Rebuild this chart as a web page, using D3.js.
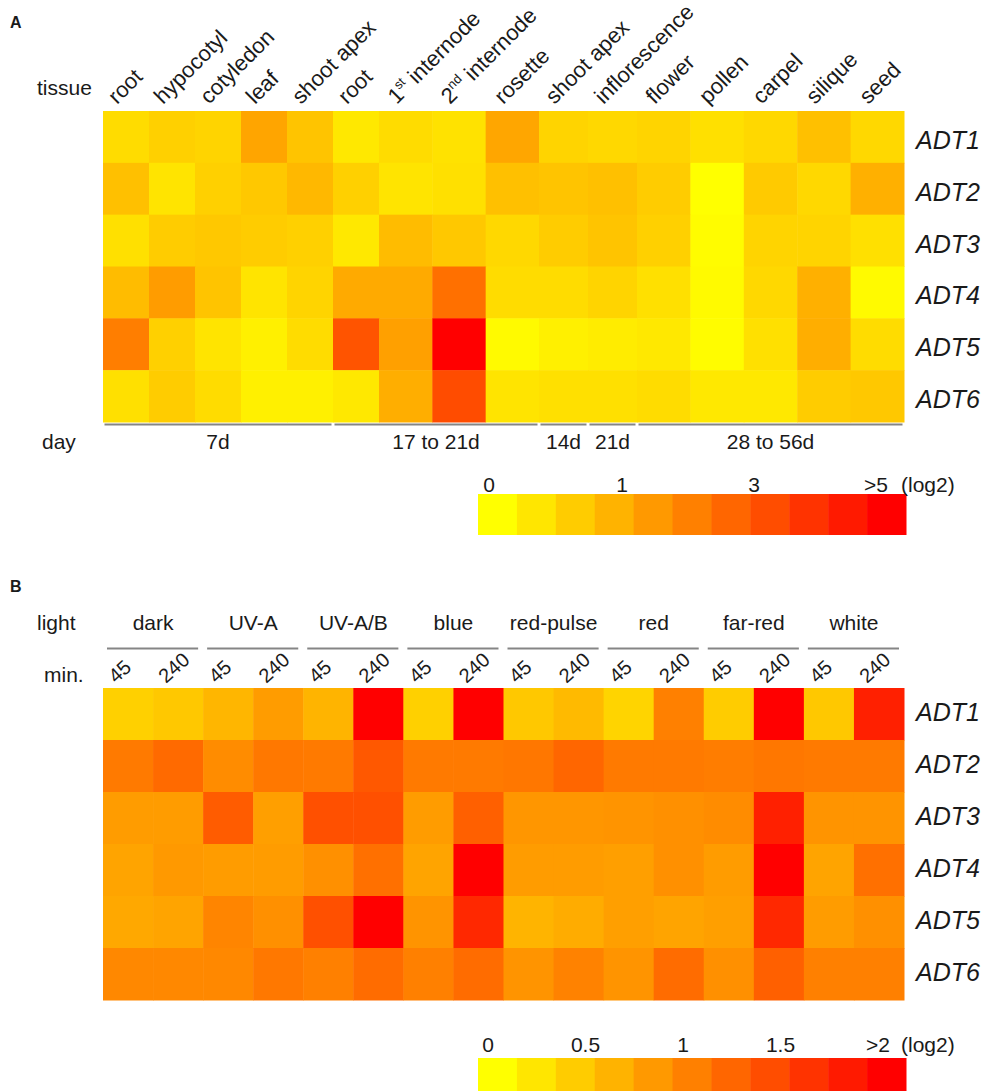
<!DOCTYPE html>
<html>
<head>
<meta charset="utf-8">
<script src="https://d3js.org/d3.v7.min.js"></script>
<style>
  body { margin: 0; background: #fff; }
  svg text { font-family: Arial, "Liberation Sans", sans-serif; fill: #1a1a1a; }
  .gene { font-style: italic; font-size: 25px; }
  .hdr { font-size: 21px; }
</style>
</head>
<body>
<div id="chart"></div>
<script>

// ---- panel A data: tissues ----
var tissues = ["root", "hypocotyl", "cotyledon", "leaf", "shoot apex", "root", "1st internode", "2nd internode",
               "rosette", "shoot apex", "inflorescence", "flower", "pollen", "carpel", "silique", "seed"];
var genes = ["ADT1", "ADT2", "ADT3", "ADT4", "ADT5", "ADT6"];
var dayLabels = ["7d", "17 to 21d", "14d", "21d", "28 to 56d"];
var dayFirst  = [0, 5, 9, 10, 11];
var dayLast   = [4, 8, 9, 10, 15];

// log2 expression, one row per gene
var tissueADT1 = [0.39, 0.52, 0.48, 1.00, 0.66, 0.26, 0.39, 0.32, 0.99, 0.48, 0.43, 0.48, 0.34, 0.43, 0.70, 0.43];
var tissueADT2 = [0.70, 0.30, 0.52, 0.61, 0.79, 0.52, 0.30, 0.34, 0.70, 0.66, 0.70, 0.57, 0.00, 0.59, 0.43, 0.88];
var tissueADT3 = [0.34, 0.57, 0.61, 0.57, 0.52, 0.26, 0.74, 0.61, 0.43, 0.57, 0.66, 0.52, 0.03, 0.48, 0.48, 0.34];
var tissueADT4 = [0.74, 1.21, 0.66, 0.30, 0.48, 0.94, 0.94, 2.25, 0.39, 0.39, 0.48, 0.34, 0.06, 0.43, 0.88, 0.06];
var tissueADT5 = [1.92, 0.52, 0.30, 0.17, 0.39, 2.90, 1.12, 5.20, 0.06, 0.17, 0.21, 0.26, 0.03, 0.34, 0.90, 0.39];
var tissueADT6 = [0.34, 0.57, 0.39, 0.17, 0.17, 0.26, 0.90, 3.10, 0.30, 0.34, 0.34, 0.39, 0.26, 0.26, 0.57, 0.61];
var tissueRows = [tissueADT1, tissueADT2, tissueADT3, tissueADT4, tissueADT5, tissueADT6];
var legendTicksA = [0, 1, 3, 5];
var legendTextA  = ["0", "1", "3", ">5"];

// ---- panel B data: light treatments ----
var lights  = ["dark", "UV-A", "UV-A/B", "blue", "red-pulse", "red", "far-red", "white"];
var minutes = ["45", "240"];
var lightADT1 = [0.37, 0.43, 0.57, 0.78, 0.59, 2.30, 0.37, 2.30, 0.43, 0.54, 0.34, 1.00, 0.40, 2.20, 0.43, 1.75];
var lightADT2 = [1.04, 1.17, 0.90, 1.06, 1.04, 1.31, 1.04, 1.04, 1.07, 1.20, 1.04, 1.04, 1.02, 1.07, 1.04, 1.04];
var lightADT3 = [0.78, 0.78, 1.28, 0.75, 1.37, 1.37, 0.78, 1.25, 0.82, 0.82, 0.84, 0.87, 0.90, 1.75, 0.84, 0.84];
var lightADT4 = [0.71, 0.80, 0.78, 0.78, 0.87, 1.12, 0.71, 2.20, 0.78, 0.78, 0.75, 0.87, 0.78, 2.10, 0.71, 1.12];
var lightADT5 = [0.68, 0.71, 0.96, 0.87, 1.37, 2.30, 0.84, 1.69, 0.59, 0.65, 0.75, 0.71, 0.75, 1.69, 0.78, 0.87];
var lightADT6 = [0.93, 0.93, 0.93, 1.06, 1.00, 1.15, 1.00, 1.15, 0.84, 0.98, 0.84, 1.15, 0.87, 1.25, 1.00, 1.00];
var lightRows = [lightADT1, lightADT2, lightADT3, lightADT4, lightADT5, lightADT6];
var legendTicksB = [0, 0.5, 1, 1.5, 2];
var legendTextB  = ["0", "0.5", "1", "1.5", ">2"];

var W = 983, H = 1091;
var svg = d3.select("#chart").append("svg").attr("width", W).attr("height", H);

// 11-step yellow -> red palette used by both legends
var palette = d3.range(11).map(function(i) { return d3.rgb(255, Math.round(255 - i * 25.5), 0).toString(); });

var colorA = d3.scaleLinear().domain([0, 1, 3, 5]).range(["#ffff00", "#ffa500", "#ff5000", "#ff0000"]).clamp(true);
var colorB = d3.scaleLinear().domain([0, 2]).range(["#ffff00", "#ff0000"]).clamp(true);

// ================= panel A =================
// columns of the first block are narrower than the later ones
var xA = d3.scaleLinear().domain([0, 6, 9, 11, 16]).range([103, 379, 539, 637, 904]);
var yA = d3.scaleBand().domain(genes).range([111, 422]);

svg.append("text").attr("x", 10).attr("y", 28).style("font-weight", "bold").style("font-size", "16px").text("A");
svg.append("text").attr("class", "hdr").attr("x", 37).attr("y", 95).text("tissue");

var cellsA = [];
tissueRows.forEach(function(row, r) {
  row.forEach(function(v, c) { cellsA.push({gene: genes[r], col: c, v: v}); });
});

svg.append("g").selectAll("rect")
  .data(cellsA)
  .enter().append("rect")
    .attr("x", function(d) { return xA(d.col); })
    .attr("y", function(d) { return yA(d.gene); })
    .attr("width", function(d) { return xA(d.col + 1) - xA(d.col) + 0.5; })
    .attr("height", yA.bandwidth() + 0.5)
    .attr("fill", function(d) { return colorA(d.v); });

// rotated tissue names, ordinal suffix as superscript
var tlab = svg.append("g").selectAll("text")
  .data(tissues)
  .enter().append("text")
    .style("font-size", "22px")
    .attr("transform", function(d, i) {
      var cx = (xA(i) + xA(i + 1)) / 2;
      return "translate(" + (cx - 9) + ",105) rotate(-45)";
    });
tlab.each(function(d) {
  var m = d.match(/^(\d)(st|nd|rd|th) (.*)$/);
  var t = d3.select(this);
  if (m) {
    t.append("tspan").text(m[1]);
    t.append("tspan").attr("dy", -9).style("font-size", "13px").text(m[2]);
    t.append("tspan").attr("dy", 9).text(" " + m[3]);
  } else {
    t.text(d);
  }
});

svg.append("g").selectAll("text")
  .data(genes)
  .enter().append("text")
    .attr("class", "gene")
    .attr("x", 916)
    .attr("y", function(d) { return yA(d) + yA.bandwidth() / 2 + 12; })
    .text(function(d) { return d; });

// day brackets
svg.append("text").attr("class", "hdr").attr("x", 42).attr("y", 449).text("day");
var days = svg.append("g");
days.selectAll("line")
  .data(dayLabels)
  .enter().append("line")
    .attr("x1", function(d, i) { return xA(dayFirst[i]) + 1.5; })
    .attr("x2", function(d, i) { return xA(dayLast[i] + 1) - 1.5; })
    .attr("y1", 424.5).attr("y2", 424.5)
    .attr("stroke", "#858585").attr("stroke-width", 2);
days.selectAll("text")
  .data(dayLabels)
  .enter().append("text")
    .attr("class", "hdr")
    .attr("text-anchor", "middle")
    .attr("x", function(d, i) { return (xA(dayFirst[i]) + xA(dayLast[i] + 1)) / 2; })
    .attr("y", 449)
    .text(function(d) { return d; });

// colour legends
function drawLegend(y0, y1, ticks, texts, pos, labelY) {
  var band = d3.scaleBand().domain(d3.range(palette.length)).range([478, 906]);
  var g = svg.append("g");
  g.selectAll("rect")
    .data(palette)
    .enter().append("rect")
      .attr("x", function(d, i) { return band(i); })
      .attr("y", y0)
      .attr("width", band.bandwidth() + 0.5)
      .attr("height", y1 - y0)
      .attr("fill", function(d) { return d; });
  g.selectAll("text")
    .data(ticks)
    .enter().append("text")
      .attr("class", "hdr")
      .attr("text-anchor", "middle")
      .attr("x", function(d) { return pos(d); })
      .attr("y", labelY)
      .text(function(d, i) { return texts[i]; });
  g.append("text").attr("class", "hdr").attr("x", 901).attr("y", labelY).text("(log2)");
}
drawLegend(494, 535, legendTicksA, legendTextA,
           d3.scaleLinear().domain([0, 1, 3, 5]).range([489, 622, 754, 876]), 492);

// ================= panel B =================
var colsB = [];
lights.forEach(function(l) { minutes.forEach(function(m) { colsB.push(l + "|" + m); }); });
var xB = d3.scaleBand().domain(colsB).range([103, 904]);
var yB = d3.scaleBand().domain(genes).range([688, 1000]);

svg.append("text").attr("x", 10).attr("y", 592).style("font-weight", "bold").style("font-size", "16px").text("B");
svg.append("text").attr("class", "hdr").attr("x", 37).attr("y", 630).text("light");
svg.append("text").attr("class", "hdr").attr("x", 44).attr("y", 682).text("min.");

var cellsB = [];
lightRows.forEach(function(row, r) {
  row.forEach(function(v, c) { cellsB.push({gene: genes[r], col: colsB[c], v: v}); });
});

svg.append("g").selectAll("rect")
  .data(cellsB)
  .enter().append("rect")
    .attr("x", function(d) { return xB(d.col); })
    .attr("y", function(d) { return yB(d.gene); })
    .attr("width", xB.bandwidth() + 0.5)
    .attr("height", yB.bandwidth() + 0.5)
    .attr("fill", function(d) { return colorB(d.v); });

var lg = svg.append("g");
lg.selectAll("text")
  .data(lights)
  .enter().append("text")
    .attr("class", "hdr")
    .attr("text-anchor", "middle")
    .attr("x", function(d) { return xB(d + "|45") + xB.bandwidth(); })
    .attr("y", 630)
    .text(function(d) { return d; });
lg.selectAll("line")
  .data(lights)
  .enter().append("line")
    .attr("x1", function(d) { return xB(d + "|45") + 4; })
    .attr("x2", function(d) { return xB(d + "|240") + xB.bandwidth() - 5; })
    .attr("y1", 648.5).attr("y2", 648.5)
    .attr("stroke", "#858585").attr("stroke-width", 2);

svg.append("g").selectAll("text")
  .data(colsB)
  .enter().append("text")
    .style("font-size", "20px")
    .attr("transform", function(d) {
      return "translate(" + (xB(d) + xB.bandwidth() / 2 - 12) + ",684) rotate(-42)";
    })
    .text(function(d) { return d.split("|")[1]; });

svg.append("g").selectAll("text")
  .data(genes)
  .enter().append("text")
    .attr("class", "gene")
    .attr("x", 916)
    .attr("y", function(d) { return yB(d) + yB.bandwidth() / 2 + 6.5; })
    .text(function(d) { return d; });

drawLegend(1058, 1091, legendTicksB, legendTextB,
           d3.scaleLinear().domain([0, 2]).range([488, 878]), 1052);

</script>
</body>
</html>
